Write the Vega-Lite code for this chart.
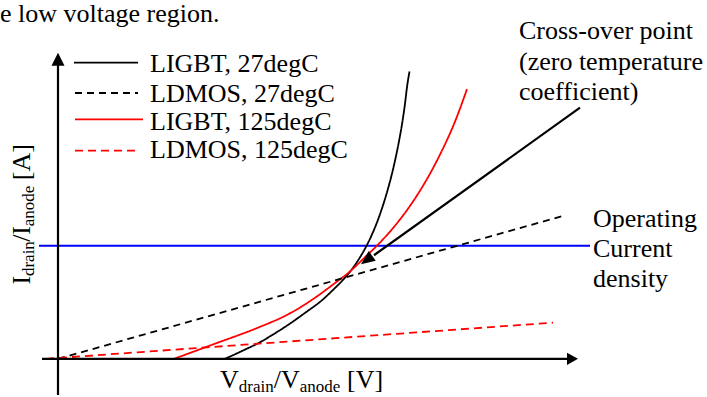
{
  "$schema": "https://vega.github.io/schema/vega-lite/v6.json",
  "width": 707,
  "height": 397,
  "autosize": {"type": "fit", "contains": "padding"},
  "padding": 0,
  "background": "white",
  "config": {"view": {"stroke": null}, "text": {"font": "Liberation Serif"}},
  "datasets": {
    "curves": [
      {"series": "LIGBT, 27degC", "x": 167, "y": 0},
      {"series": "LIGBT, 27degC", "x": 185, "y": 8.5},
      {"series": "LIGBT, 27degC", "x": 202, "y": 17},
      {"series": "LIGBT, 27degC", "x": 216, "y": 25.5},
      {"series": "LIGBT, 27degC", "x": 229, "y": 34},
      {"series": "LIGBT, 27degC", "x": 247, "y": 47},
      {"series": "LIGBT, 27degC", "x": 264, "y": 60},
      {"series": "LIGBT, 27degC", "x": 276, "y": 71.5},
      {"series": "LIGBT, 27degC", "x": 287, "y": 83},
      {"series": "LIGBT, 27degC", "x": 294, "y": 91.75},
      {"series": "LIGBT, 27degC", "x": 301, "y": 102.25},
      {"series": "LIGBT, 27degC", "x": 307, "y": 112.75},
      {"series": "LIGBT, 27degC", "x": 313, "y": 125},
      {"series": "LIGBT, 27degC", "x": 318, "y": 137},
      {"series": "LIGBT, 27degC", "x": 323, "y": 151},
      {"series": "LIGBT, 27degC", "x": 328, "y": 167},
      {"series": "LIGBT, 27degC", "x": 333, "y": 185.5},
      {"series": "LIGBT, 27degC", "x": 337, "y": 202.7},
      {"series": "LIGBT, 27degC", "x": 341, "y": 222.7},
      {"series": "LIGBT, 27degC", "x": 344, "y": 240},
      {"series": "LIGBT, 27degC", "x": 347, "y": 261},
      {"series": "LIGBT, 27degC", "x": 349, "y": 278},
      {"series": "LIGBT, 27degC", "x": 351.5, "y": 294},
      {"series": "LIGBT, 125degC", "x": 116, "y": 0},
      {"series": "LIGBT, 125degC", "x": 157, "y": 15.5},
      {"series": "LIGBT, 125degC", "x": 199, "y": 31.5},
      {"series": "LIGBT, 125degC", "x": 229, "y": 45},
      {"series": "LIGBT, 125degC", "x": 242, "y": 52.5},
      {"series": "LIGBT, 125degC", "x": 257, "y": 62.5},
      {"series": "LIGBT, 125degC", "x": 275, "y": 76},
      {"series": "LIGBT, 125degC", "x": 292, "y": 89.5},
      {"series": "LIGBT, 125degC", "x": 307, "y": 104},
      {"series": "LIGBT, 125degC", "x": 322, "y": 119},
      {"series": "LIGBT, 125degC", "x": 337, "y": 136.25},
      {"series": "LIGBT, 125degC", "x": 352, "y": 156.5},
      {"series": "LIGBT, 125degC", "x": 367, "y": 180.5},
      {"series": "LIGBT, 125degC", "x": 382, "y": 209},
      {"series": "LIGBT, 125degC", "x": 397, "y": 242.75},
      {"series": "LIGBT, 125degC", "x": 409, "y": 276},
      {"series": "LDMOS, 27degC", "x": 0, "y": 0},
      {"series": "LDMOS, 27degC", "x": 504, "y": 146},
      {"series": "LDMOS, 125degC", "x": -12, "y": 0},
      {"series": "LDMOS, 125degC", "x": 495, "y": 37}
    ],
    "legendLines": [
      {"series": "LIGBT, 27degC", "x": 16, "y": 303},
      {"series": "LIGBT, 27degC", "x": 80, "y": 303},
      {"series": "LDMOS, 27degC", "x": 17, "y": 272},
      {"series": "LDMOS, 27degC", "x": 80, "y": 272},
      {"series": "LIGBT, 125degC", "x": 17, "y": 245},
      {"series": "LIGBT, 125degC", "x": 85, "y": 245},
      {"series": "LDMOS, 125degC", "x": 17, "y": 213},
      {"series": "LDMOS, 125degC", "x": 80, "y": 213}
    ],
    "blackRules": [
      {"x": 0, "y": -37, "x2": 0, "y2": 301},
      {"x": -16, "y": 0, "x2": 510, "y2": 0},
      {"x": 522, "y": 257, "x2": 316, "y2": 106}
    ],
    "blueRule": [
      {"x": -19, "y": 115.7, "x2": 532, "y2": 115.7}
    ],
    "yArrow": [{"x": 0, "y": 306.5}],
    "xArrow": [{"x": 514.5, "y": 0}],
    "crossArrow": [{"x": 308.6, "y": 101.1}],
    "labels": [
      {"text": "e low voltage region.", "x": -58, "y": 345},
      {"text": "LIGBT, 27degC", "x": 92, "y": 294},
      {"text": "LDMOS, 27degC", "x": 92, "y": 263},
      {"text": "LIGBT, 125degC", "x": 92, "y": 234},
      {"text": "LDMOS, 125degC", "x": 92, "y": 205},
      {"text": "Cross-over point", "x": 461, "y": 327},
      {"text": "(zero temperature", "x": 461, "y": 296},
      {"text": "coefficient)", "x": 461, "y": 265},
      {"text": "Operating", "x": 535, "y": 135},
      {"text": "Current", "x": 535, "y": 104},
      {"text": "density", "x": 535, "y": 73},
      {"text": "V", "x": 162, "y": -30},
      {"text": "/V", "x": 215.8, "y": -30},
      {"text": "[V]", "x": 289, "y": -30}
    ],
    "subLabels": [
      {"text": "drain", "x": 180.8, "y": -34},
      {"text": "anode", "x": 241.8, "y": -34}
    ],
    "yTitle": [
      {"text": "I", "x": -28, "y": 76},
      {"text": "/I", "x": -28, "y": 119.7},
      {"text": "[A]", "x": -28, "y": 182.7}
    ],
    "yTitleSub": [
      {"text": "drain", "x": -24, "y": 84.7},
      {"text": "anode", "x": -24, "y": 135.6}
    ]
  },
  "encoding": {
    "x": {"field": "x", "type": "quantitative", "scale": {"domain": [-58, 649], "nice": false, "zero": false}, "axis": null},
    "y": {"field": "y", "type": "quantitative", "scale": {"domain": [-37, 360], "nice": false, "zero": false}, "axis": null}
  },
  "layer": [
    {
      "data": {"name": "blueRule"},
      "mark": {"type": "rule", "color": "#0000ff", "strokeWidth": 2},
      "encoding": {"x2": {"field": "x2"}, "y2": {"field": "y2"}}
    },
    {
      "data": {"name": "curves"},
      "mark": {"type": "line", "interpolate": "monotone", "strokeWidth": 1.8},
      "encoding": {
        "color": {"field": "series", "type": "nominal", "scale": {"domain": ["LIGBT, 27degC", "LDMOS, 27degC", "LIGBT, 125degC", "LDMOS, 125degC"], "range": ["#000000", "#000000", "#ff0000", "#ff0000"]}, "legend": null},
        "strokeDash": {"field": "series", "type": "nominal", "scale": {"domain": ["LIGBT, 27degC", "LDMOS, 27degC", "LIGBT, 125degC", "LDMOS, 125degC"], "range": [[1, 0], [7, 5], [1, 0], [8, 5]]}, "legend": null}
      }
    },
    {
      "data": {"name": "legendLines"},
      "mark": {"type": "line", "strokeWidth": 1.8},
      "encoding": {
        "color": {"field": "series", "type": "nominal", "legend": null},
        "strokeDash": {"field": "series", "type": "nominal", "legend": null}
      }
    },
    {
      "data": {"name": "blackRules"},
      "mark": {"type": "rule", "color": "#000000", "strokeWidth": 2.2},
      "encoding": {"x2": {"field": "x2"}, "y2": {"field": "y2"}}
    },
    {
      "data": {"name": "yArrow"},
      "mark": {"type": "point", "filled": true, "color": "#000000", "opacity": 1, "shape": "M0,-1L-1,1L1,1Z", "size": 169}
    },
    {
      "data": {"name": "xArrow"},
      "mark": {"type": "point", "filled": true, "color": "#000000", "opacity": 1, "shape": "M1,0L-1,-1.1L-1,1.1Z", "size": 121}
    },
    {
      "data": {"name": "crossArrow"},
      "mark": {"type": "point", "filled": true, "color": "#000000", "opacity": 1, "shape": "M1,0L-1,-0.85L-1,0.85Z", "size": 196, "angle": 143.85}
    },
    {
      "data": {"name": "labels"},
      "mark": {"type": "text", "font": "Liberation Serif", "align": "left", "baseline": "alphabetic", "fontSize": 26, "color": "#000000"},
      "encoding": {"text": {"field": "text"}}
    },
    {
      "data": {"name": "subLabels"},
      "mark": {"type": "text", "font": "Liberation Serif", "align": "left", "baseline": "alphabetic", "fontSize": 17, "color": "#000000"},
      "encoding": {"text": {"field": "text"}}
    },
    {
      "data": {"name": "yTitle"},
      "mark": {"type": "text", "font": "Liberation Serif", "align": "left", "baseline": "alphabetic", "fontSize": 26, "angle": 270, "color": "#000000"},
      "encoding": {"text": {"field": "text"}}
    },
    {
      "data": {"name": "yTitleSub"},
      "mark": {"type": "text", "font": "Liberation Serif", "align": "left", "baseline": "alphabetic", "fontSize": 17, "angle": 270, "color": "#000000"},
      "encoding": {"text": {"field": "text"}}
    }
  ]
}
